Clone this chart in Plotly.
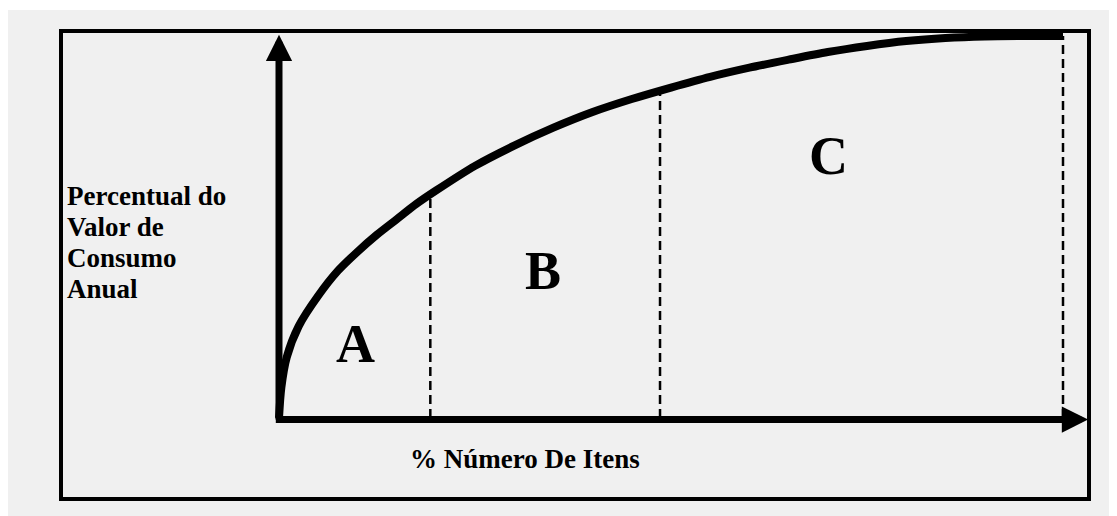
import numpy as np
import plotly.graph_objects as go

# curva ABC: % do numero de itens x % do valor de consumo anual
pct_itens = [0, 0.3, 1, 2.5, 5, 7.5, 10, 12.5, 15, 17.5, 20, 25, 30, 35, 40,
             45, 50, 55, 60, 65, 70, 75, 80, 85, 90, 95, 100]
pct_valor = [0, 8, 16, 24, 32, 38.5, 43.5, 48, 52, 56, 59.5, 66, 71.3, 76, 80.1,
             83.5, 86.5, 89.3, 91.7, 93.8, 95.8, 97.4, 98.7, 99.5, 99.9, 100, 100]

# limites das classes A/B e B/C e fim da curva
limites = [19.3, 48.6, 100]

classes = ["A", "B", "C"]
classe_x = [9.8, 33.7, 70.1]
classe_y = [19.3, 38.5, 68.5]

titulo_y = ["Percentual do", "Valor de", "Consumo", "Anual"]
titulo_x = "% Número De Itens"

# a pagina tem margem de 8px, a figura fica dentro dela
OFF = 8
W, H = 1117 - OFF, 516 - OFF
serif = "Liberation Serif"

# posicoes em pixels da pagina -> escala dos eixos
x0_px, x100_px = 279 - OFF, 1063 - OFF
y0_px, y100_px = 418 - OFF, 36 - OFF
sx = (x100_px - x0_px) / 100.0
sy = (y0_px - y100_px) / 100.0


def px(p):
    return (p - OFF) / W


def py(p):
    return 1 - (p - OFF) / H


fig = go.Figure()

fig.add_trace(go.Scatter(
    x=pct_itens, y=pct_valor,
    mode="lines",
    line=dict(color="black", width=8, shape="spline", smoothing=0.8),
    hoverinfo="skip",
))

# linhas tracejadas que separam as classes
topos = np.interp(limites, pct_itens, pct_valor)
for xl, yt in zip(limites, topos):
    fig.add_trace(go.Scatter(
        x=[xl, xl], y=[0, yt],
        mode="lines",
        line=dict(color="black", width=2.5, dash="9px,5px"),
        hoverinfo="skip",
    ))

# eixos com seta
fig.add_annotation(x=0, y=100.3, ax=0, ay=-0.8, xref="x", yref="y",
                   axref="x", ayref="y", text="", showarrow=True,
                   arrowhead=2, arrowsize=0.75, arrowwidth=7, arrowcolor="black")
fig.add_annotation(x=103.2, y=-0.4, ax=-0.6, ay=-0.4, xref="x", yref="y",
                   axref="x", ayref="y", text="", showarrow=True,
                   arrowhead=2, arrowsize=0.75, arrowwidth=7, arrowcolor="black")

for c, cx, cy in zip(classes, classe_x, classe_y):
    fig.add_annotation(x=cx, y=cy, text="<b>%s</b>" % c, showarrow=False,
                       font=dict(family=serif, size=54, color="black"))

# titulo do eixo y, uma linha por anotacao
for i, linha in enumerate(titulo_y):
    fig.add_annotation(x=px(65), y=py(196 + 31 * i), xref="paper", yref="paper",
                       xanchor="left", yanchor="middle", text="<b>%s</b>" % linha,
                       showarrow=False, font=dict(family=serif, size=27, color="black"))

fig.add_annotation(x=px(525), y=py(459), xref="paper", yref="paper",
                   xanchor="center", yanchor="middle", text="<b>%s</b>" % titulo_x,
                   showarrow=False, font=dict(family=serif, size=27, color="black"))

# fundo cinza e moldura
fig.add_shape(type="rect", xref="paper", yref="paper", layer="below",
              x0=0, x1=1, y0=0, y1=py(10),
              fillcolor="#f0f0f0", line=dict(width=0))
fig.add_shape(type="rect", xref="paper", yref="paper", layer="below",
              x0=px(61), x1=px(1089), y0=py(499), y1=py(31),
              line=dict(color="black", width=4))

fig.update_layout(
    width=W, height=H,
    margin=dict(l=0, r=0, t=0, b=0),
    paper_bgcolor="white",
    plot_bgcolor="rgba(0,0,0,0)",
    showlegend=False,
    xaxis=dict(range=[-x0_px / sx, (W - x0_px) / sx], visible=False, fixedrange=True),
    yaxis=dict(range=[-(H - y0_px) / sy, 100 + y100_px / sy], visible=False, fixedrange=True),
)

fig.write_html("out.html")
